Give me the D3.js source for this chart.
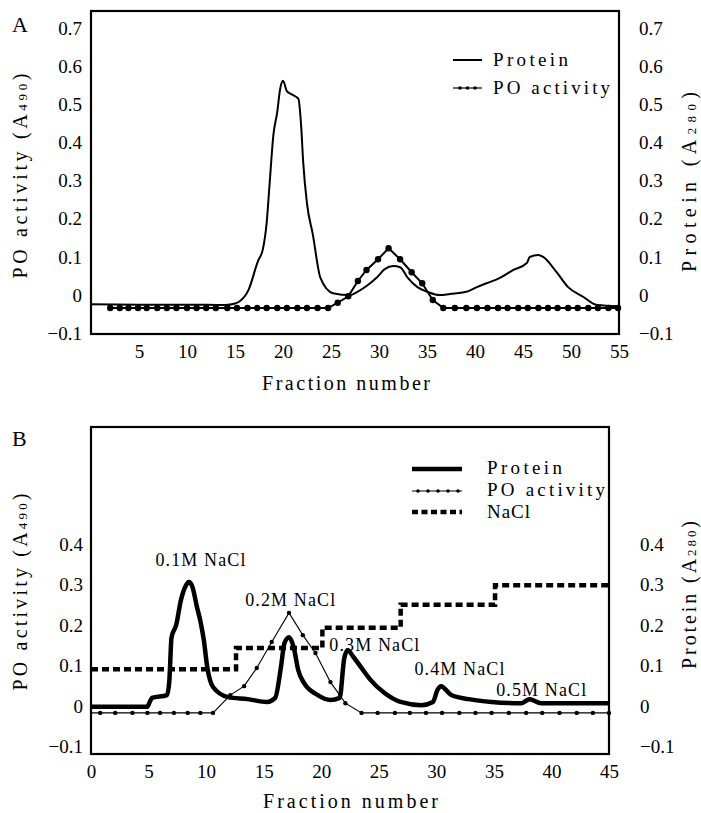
<!DOCTYPE html>
<html>
<head>
<meta charset="utf-8">
<script src="https://cdn.jsdelivr.net/npm/d3@7"></script>
<style>
  body { margin: 0; background: #fff; }
  svg { display: block; }
  text { font-family: "Liberation Serif", "Times New Roman", serif; fill: #000; }
</style>
</head>
<body>
<svg id="chart" width="701" height="813"></svg>
<script>
// ---- panel A data (fraction, absorbance) ----
var proteinA = [[0,-0.024],[5,-0.025],[10,-0.025],[14,-0.026],[15,-0.022],[15.5,-0.016],[16.4,0.013],
  [17.4,0.09],[17.9,0.12],[18.3,0.19],[18.6,0.29],[19,0.42],[19.4,0.48],[19.7,0.54],[20,0.562],
  [20.4,0.535],[21,0.525],[21.6,0.515],[21.9,0.44],[22.1,0.35],[22.5,0.24],[23.1,0.16],[23.9,0.045],
  [25.2,0.005],[27,0],[27.7,0.008],[28.7,0.024],[29.8,0.047],[30.6,0.068],[31.5,0.076],[32.2,0.073],
  [33,0.045],[34,0.021],[35.1,0.008],[36.3,0],[37.4,0.003],[39,0.008],[40.2,0.021],[41.2,0.031],
  [42.6,0.045],[44,0.066],[45.4,0.084],[45.7,0.1],[46.6,0.105],[47.1,0.1],[48.5,0.06],[49.7,0.021],
  [51.3,-0.005],[52.7,-0.026],[55,-0.029]];
var poFracA = [2,3,3.9,4.9,5.8,6.9,7.9,8.9,10,11,12,13,14.2,15.2,16.3,17.3,18.3,19.4,20.4,21.5,22.5,23.6,24.7,
  25.7,26.8,27.8,28.7,29.9,31,32.2,33.4,34.5,35.6,36.7,
  37.9,39.1,40.2,41.3,42.4,43.4,44.5,45.5,46.6,47.6,48.6,49.7,50.7,51.8,52.8,53.9,54.9];
var poValA = [-0.034,-0.034,-0.034,-0.034,-0.034,-0.034,-0.034,-0.034,-0.034,-0.034,-0.034,-0.034,-0.034,
  -0.034,-0.034,-0.034,-0.034,-0.034,-0.034,-0.034,-0.034,-0.034,-0.034,
  -0.02,-0.003,0.037,0.066,0.094,0.123,0.094,0.06,0.031,-0.013,-0.034,
  -0.034,-0.034,-0.034,-0.034,-0.034,-0.034,-0.034,-0.034,-0.034,-0.034,-0.034,-0.034,-0.034,-0.034,
  -0.034,-0.034,-0.034];
var yTicksA = [-0.1,0,0.1,0.2,0.3,0.4,0.5,0.6,0.7];
var xTicksA = [5,10,15,20,25,30,35,40,45,50,55];

// ---- panel B data ----
var proteinB = [[0,-0.002],[4.9,-0.002],[5.1,0.01],[5.3,0.02],[6.6,0.027],[6.8,0.06],[7,0.17],[7.4,0.2],
  [7.8,0.26],[8.2,0.295],[8.5,0.306],[8.8,0.295],[9.2,0.245],[9.5,0.21],[9.8,0.163],[10.1,0.096],
  [10.6,0.047],[11.9,0.022],[13.6,0.017],[15.3,0.01],[16,0.02],[16.5,0.096],[16.8,0.155],[17.2,0.17],
  [17.6,0.146],[18,0.089],[18.5,0.057],[19.7,0.027],[20.8,0.015],[21.6,0.02],[22,0.118],[22.3,0.138],
  [22.8,0.121],[23.5,0.094],[24.3,0.064],[25.5,0.032],[26.9,0.01],[28.7,0.002],[29.7,0.01],[30.1,0.04],
  [30.4,0.049],[31.3,0.027],[32.8,0.017],[34.8,0.01],[37.4,0.007],[38.1,0.017],[39.1,0.007],
  [41.5,0.007],[45,0.007]];
var poFracB = [0,0.8,2.1,3.6,4.9,6,7.2,8.4,9.5,10.6,12.1,13.3,14.4,15.7,17.2,18.4,19.5,20.8,22.1,23.5,
  24.9,26.4,27.7,29.1,30.5,32,33.4,34.8,36.3,37.8,39.2,40.7,42.2,43.6,45];
var poValB = [-0.017,-0.017,-0.017,-0.017,-0.017,-0.017,-0.017,-0.017,-0.017,-0.017,0.027,0.049,0.094,
  0.158,0.23,0.175,0.131,0.059,0.007,-0.017,-0.017,-0.017,-0.017,-0.017,-0.017,-0.017,-0.017,-0.017,
  -0.017,-0.017,-0.017,-0.017,-0.017,-0.017,-0.017];
var naclStart = [0,12.6,20.1,26.9,35.1,45];
var naclLevel = [0.091,0.143,0.193,0.25,0.298,0.298];
var naclLabels = ["0.1M NaCl","0.2M NaCl","0.3M NaCl","0.4M NaCl","0.5M NaCl"];
var naclLabelFrac = [5.6,13.4,20.7,28.1,35.2];
var naclLabelVal = [0.346,0.247,0.136,0.077,0.025];
var yTicksB = [-0.1,0,0.1,0.2,0.3,0.4];
var xTicksB = [0,5,10,15,20,25,30,35,40,45];

var svg = d3.select("#chart");
var fmt = function(v){ return v === 0 ? "0" : d3.format(".1f")(v); };

function drawFrame(g, x, y, o) {
  var axL = g.append("g").attr("transform", "translate(" + o.left + ",0)")
    .call(d3.axisLeft(y).tickValues(o.yTicks).tickSize(0).tickPadding(o.padL).tickFormat(fmt));
  var axR = g.append("g").attr("transform", "translate(" + o.right + ",0)")
    .call(d3.axisRight(y).tickValues(o.yTicks).tickSize(0).tickPadding(o.padR).tickFormat(fmt));
  var axB = g.append("g").attr("transform", "translate(0," + o.bottom + ")")
    .call(d3.axisBottom(x).tickValues(o.xTicks).tickSize(0).tickPadding(11).tickFormat(d3.format("d")));
  [axL, axR, axB].forEach(function(a){
    a.select(".domain").remove();
    a.attr("font-family", null).attr("font-size", null);
    a.selectAll("text").style("font-size", "19px").attr("fill", "#000");
  });
  g.append("rect")
    .attr("x", o.left).attr("y", o.top)
    .attr("width", o.right - o.left).attr("height", o.bottom - o.top)
    .attr("fill", "none").attr("stroke", "#000").attr("stroke-width", 2.2);

  // axis titles
  var tl = g.append("text")
    .attr("transform", "translate(27," + o.titleLY + ") rotate(-90)")
    .attr("text-anchor", "middle").style("font-size", "20px")
    .attr("textLength", o.titleLLen).attr("lengthAdjust", "spacing");
  tl.append("tspan").text("PO activity (A");
  tl.append("tspan").style("font-size", "13px").text("490");
  tl.append("tspan").text(")");
  var tr = g.append("text")
    .attr("transform", "translate(696," + o.titleRY + ") rotate(-90)")
    .attr("text-anchor", "middle").style("font-size", "20px")
    .attr("textLength", o.titleRLen).attr("lengthAdjust", "spacing");
  tr.append("tspan").text("Protein (A");
  tr.append("tspan").style("font-size", "13px").text("280");
  tr.append("tspan").text(")");
  g.append("text")
    .attr("x", o.xTitleX).attr("y", o.xTitleY)
    .style("font-size", "20px")
    .attr("textLength", o.xTitleLen).attr("lengthAdjust", "spacing")
    .text("Fraction number");
  g.append("text")
    .attr("x", 12).attr("y", o.letterY)
    .style("font-size", "22px")
    .text(o.letter);
}

// ===== Panel A =====
var optA = { left: 91, right: 619, top: 11, bottom: 334, yTicks: yTicksA, xTicks: xTicksA,
  padL: 9, padR: 20, titleLY: 176, titleLLen: 205, titleRY: 182, titleRLen: 180,
  xTitleX: 262, xTitleY: 390, xTitleLen: 168, letter: "A", letterY: 32 };
var xA = d3.scaleLinear().domain([0, 55]).range([optA.left, optA.right]);
var yA = d3.scaleLinear().domain([-0.102, 0.745]).range([optA.bottom, optA.top]);
var gA = svg.append("g");
drawFrame(gA, xA, yA, optA);

var lineA = d3.line().x(function(d){ return xA(d[0]); }).y(function(d){ return yA(d[1]); })
  .curve(d3.curveMonotoneX);
gA.append("path").datum(proteinA).attr("d", lineA)
  .attr("fill", "none").attr("stroke", "#000").attr("stroke-width", 2);

var poA = poFracA.map(function(f, i){ return [f, poValA[i]]; });
var poLineA = d3.line().x(function(d){ return xA(d[0]); }).y(function(d){ return yA(d[1]); });
gA.append("path").datum(poA).attr("d", poLineA)
  .attr("fill", "none").attr("stroke", "#000").attr("stroke-width", 2);
gA.selectAll("circle.po").data(poA).enter().append("circle")
  .attr("class", "po")
  .attr("cx", function(d){ return xA(d[0]); })
  .attr("cy", function(d){ return yA(d[1]); })
  .attr("r", 3.2).attr("fill", "#000");

// legend A
gA.append("line").attr("x1", 453).attr("x2", 482).attr("y1", 60).attr("y2", 60)
  .attr("stroke", "#000").attr("stroke-width", 2);
gA.append("text").attr("x", 493).attr("y", 66).style("font-size", "19px")
  .attr("textLength", 75).attr("lengthAdjust", "spacing").text("Protein");
gA.append("line").attr("x1", 453).attr("x2", 482).attr("y1", 88).attr("y2", 88)
  .attr("stroke", "#000").attr("stroke-width", 1.2);
[460, 467.5, 475].forEach(function(cx){
  gA.append("circle").attr("cx", cx).attr("cy", 88).attr("r", 1.8).attr("fill", "#000");
});
gA.append("text").attr("x", 493).attr("y", 94).style("font-size", "19px")
  .attr("textLength", 117).attr("lengthAdjust", "spacing").text("PO activity");

// ===== Panel B =====
var optB = { left: 91, right: 609, top: 427, bottom: 754, yTicks: yTicksB, xTicks: xTicksB,
  padL: 8, padR: 31, titleLY: 592, titleLLen: 197, titleRY: 595, titleRLen: 148,
  xTitleX: 263, xTitleY: 808, xTitleLen: 175, letter: "B", letterY: 446 };
var xB = d3.scaleLinear().domain([0, 45]).range([optB.left, optB.right]);
var yB = d3.scaleLinear().domain([-0.1185, 0.689]).range([optB.bottom, optB.top]);
var gB = svg.append("g");
drawFrame(gB, xB, yB, optB);

var naclPts = naclStart.map(function(f, i){ return [f, naclLevel[i]]; });
var stepLine = d3.line().x(function(d){ return xB(d[0]); }).y(function(d){ return yB(d[1]); })
  .curve(d3.curveStepAfter);
gB.append("path").datum(naclPts).attr("d", stepLine)
  .attr("fill", "none").attr("stroke", "#000").attr("stroke-width", 4.5)
  .attr("stroke-dasharray", "7,4");

var poB = poFracB.map(function(f, i){ return [f, poValB[i]]; });
var poLineB = d3.line().x(function(d){ return xB(d[0]); }).y(function(d){ return yB(d[1]); });
gB.append("path").datum(poB).attr("d", poLineB)
  .attr("fill", "none").attr("stroke", "#000").attr("stroke-width", 1.1);
gB.selectAll("circle.po").data(poB.filter(function(d){ return d[0] > 0; })).enter().append("circle")
  .attr("class", "po")
  .attr("cx", function(d){ return xB(d[0]); })
  .attr("cy", function(d){ return yB(d[1]); })
  .attr("r", 2.2).attr("fill", "#000");

var lineB = d3.line().x(function(d){ return xB(d[0]); }).y(function(d){ return yB(d[1]); })
  .curve(d3.curveMonotoneX);
gB.append("path").datum(proteinB).attr("d", lineB)
  .attr("fill", "none").attr("stroke", "#000").attr("stroke-width", 4.5)
  .attr("stroke-linejoin", "round");

gB.selectAll("text.salt").data(naclLabels).enter().append("text")
  .attr("class", "salt")
  .attr("x", function(d, i){ return xB(naclLabelFrac[i]); })
  .attr("y", function(d, i){ return yB(naclLabelVal[i]); })
  .style("font-size", "18px")
  .attr("textLength", 90).attr("lengthAdjust", "spacing")
  .text(function(d){ return d; });

// legend B
gB.append("line").attr("x1", 412).attr("x2", 462).attr("y1", 469).attr("y2", 469)
  .attr("stroke", "#000").attr("stroke-width", 4.5);
gB.append("text").attr("x", 487).attr("y", 474).style("font-size", "19px")
  .attr("textLength", 75).attr("lengthAdjust", "spacing").text("Protein");
gB.append("line").attr("x1", 412).attr("x2", 462).attr("y1", 491).attr("y2", 491)
  .attr("stroke", "#000").attr("stroke-width", 1.1);
[418, 428, 438, 448, 458].forEach(function(cx){
  gB.append("circle").attr("cx", cx).attr("cy", 491).attr("r", 1.8).attr("fill", "#000");
});
gB.append("text").attr("x", 487).attr("y", 496).style("font-size", "19px")
  .attr("textLength", 118).attr("lengthAdjust", "spacing").text("PO activity");
gB.append("line").attr("x1", 412).attr("x2", 462).attr("y1", 512).attr("y2", 512)
  .attr("stroke", "#000").attr("stroke-width", 4.5).attr("stroke-dasharray", "6,3.5");
gB.append("text").attr("x", 487).attr("y", 518).style("font-size", "19px")
  .attr("textLength", 43).attr("lengthAdjust", "spacing").text("NaCl");
</script>
</body>
</html>
